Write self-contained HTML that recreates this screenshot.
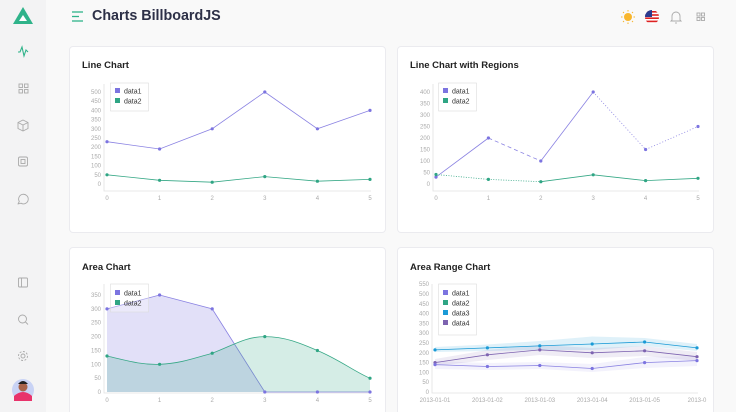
<!DOCTYPE html>
<html><head><meta charset="utf-8"><style>
html,body{margin:0;width:736px;height:412px;overflow:hidden}
body{background:#f9f9f9;font-family:"Liberation Sans",sans-serif;position:relative}
.side{position:absolute;left:0;top:0;width:46px;height:412px;background:#f3f3f4}
.card{position:absolute;background:#fff;border:1px solid #ebebef;border-radius:4px}
.t{position:absolute;font-size:9.5px;font-weight:bold;color:#222}
svg{position:absolute;left:0;top:0}
</style></head><body>
<div class="side"></div>
<div class="card" style="left:69px;top:46px;width:315px;height:185px"></div>
<div class="card" style="left:397px;top:46px;width:315px;height:185px"></div>
<div class="card" style="left:69px;top:247px;width:315px;height:180px"></div>
<div class="card" style="left:397px;top:247px;width:315px;height:180px"></div>
<div class="t" style="left:82px;top:60px">Line Chart</div>
<div class="t" style="left:410px;top:60px">Line Chart with Regions</div>
<div class="t" style="left:82px;top:262px">Area Chart</div>
<div class="t" style="left:410px;top:262px">Area Range Chart</div>
<div style="position:absolute;left:92px;top:8px;font-size:14.3px;font-weight:bold;color:#2d3047">Charts BillboardJS</div>
<svg width="736" height="412" font-family="Liberation Sans, sans-serif">
<polygon points="23,7 13,24 33,24" fill="#2fb38a"/><polygon points="23,15 19,21 27,21" fill="#fff"/>
<g stroke="#2fb38a" stroke-width="1.3"><line x1="72" y1="12" x2="83" y2="12"/><line x1="72" y1="16.5" x2="79" y2="16.5"/><line x1="72" y1="21" x2="83" y2="21"/></g>
<polyline points="18,52 20,52 22,47 24,56 26,50 28,52" fill="none" stroke="#2fb38a" stroke-width="1.1"/>
<g fill="none" stroke="#aaa" stroke-width="0.9">
<rect x="19" y="84" width="3.5" height="3.5"/><rect x="24.5" y="84" width="3.5" height="3.5"/><rect x="19" y="89.5" width="3.5" height="3.5"/><rect x="24.5" y="89.5" width="3.5" height="3.5"/>
<polygon points="23,120 28,122.5 28,128.5 23,131 18,128.5 18,122.5"/><polyline points="18,122.5 23,125 28,122.5"/><line x1="23" y1="125" x2="23" y2="131"/>
<rect x="18.5" y="157" width="9" height="9" rx="1.5"/><rect x="21" y="159.5" width="4" height="4"/>
<path d="M19.3,201.5 A4.8,4.8 0 1 1 21,203.2 L18,204 Z" stroke-linejoin="round"/>
<rect x="18.5" y="278" width="9" height="9" rx="1"/><line x1="21.5" y1="278" x2="21.5" y2="287"/>
<circle cx="22.5" cy="319" r="4"/><line x1="25.5" y1="322" x2="28" y2="324.5"/>
<circle cx="23" cy="356" r="2"/><circle cx="23" cy="356" r="4.5" stroke-dasharray="2 1.5"/>
</g>
<circle cx="23" cy="390" r="11" fill="#c9d3f5"/><path d="M14,396 q9,-8 18,0 l0,5 -18,0z" fill="#e8336b"/><circle cx="23" cy="387" r="4.5" fill="#a8634a"/><path d="M18,384 q5,-6 10,0z" fill="#222"/>
<circle cx="628" cy="17" r="4" fill="#f8b62d"/><g stroke="#f8b62d" stroke-width="1"><line x1="628" y1="10" x2="628" y2="11.5"/><line x1="628" y1="22.5" x2="628" y2="24"/><line x1="621" y1="17" x2="622.5" y2="17"/><line x1="633.5" y1="17" x2="635" y2="17"/><line x1="623" y1="12" x2="624" y2="13"/><line x1="632" y1="21" x2="633" y2="22"/><line x1="633" y1="12" x2="632" y2="13"/><line x1="623" y1="22" x2="624" y2="21"/></g>
<clipPath id="fl"><circle cx="652" cy="17" r="7"/></clipPath>
<g clip-path="url(#fl)"><rect x="645" y="10" width="14" height="14" fill="#fff"/><rect x="645" y="11" width="14" height="1.6" fill="#d22"/><rect x="645" y="14.2" width="14" height="1.6" fill="#d22"/><rect x="645" y="17.4" width="14" height="1.6" fill="#d22"/><rect x="645" y="20.6" width="14" height="1.6" fill="#d22"/><rect x="645" y="10" width="7" height="7" fill="#2a3b8f"/></g>
<g fill="none" stroke="#aaa" stroke-width="0.9"><path d="M672,20 l0,-4 a4,4 0 0 1 8,0 l0,4 1,1 -10,0z"/><line x1="675" y1="23" x2="677" y2="23"/>
<rect x="697" y="13" width="3" height="3"/><rect x="701.5" y="13" width="3" height="3"/><rect x="697" y="17.5" width="3" height="3"/><rect x="701.5" y="17.5" width="3" height="3"/></g>

<g font-size="6" fill="#aaa" text-anchor="end">
<text x="101" y="186">0</text><text x="101" y="176.8">50</text><text x="101" y="167.6">100</text><text x="101" y="158.4">150</text><text x="101" y="149.2">200</text><text x="101" y="140">250</text><text x="101" y="130.8">300</text><text x="101" y="121.6">350</text><text x="101" y="112.4">400</text><text x="101" y="103.2">450</text><text x="101" y="94">500</text>
<text x="430" y="186">0</text><text x="430" y="174.5">50</text><text x="430" y="163">100</text><text x="430" y="151.5">150</text><text x="430" y="140">200</text><text x="430" y="128.5">250</text><text x="430" y="117">300</text><text x="430" y="105.5">350</text><text x="430" y="94">400</text>
<text x="101" y="394">0</text><text x="101" y="380.1">50</text><text x="101" y="366.3">100</text><text x="101" y="352.4">150</text><text x="101" y="338.6">200</text><text x="101" y="324.7">250</text><text x="101" y="310.9">300</text><text x="101" y="297">350</text>
<text x="429" y="394">0</text><text x="429" y="384.2">50</text><text x="429" y="374.4">100</text><text x="429" y="364.6">150</text><text x="429" y="354.8">200</text><text x="429" y="345">250</text><text x="429" y="335.2">300</text><text x="429" y="325.4">350</text><text x="429" y="315.6">400</text><text x="429" y="305.8">450</text><text x="429" y="296">500</text><text x="429" y="286.2">550</text>
</g>
<g font-size="6" fill="#aaa" text-anchor="middle">
<text x="107" y="200">0</text><text x="159.6" y="200">1</text><text x="212.2" y="200">2</text><text x="264.8" y="200">3</text><text x="317.4" y="200">4</text><text x="370" y="200">5</text>
<text x="436" y="200">0</text><text x="488.4" y="200">1</text><text x="540.8" y="200">2</text><text x="593.2" y="200">3</text><text x="645.6" y="200">4</text><text x="698" y="200">5</text>
<text x="107" y="402">0</text><text x="159.6" y="402">1</text><text x="212.2" y="402">2</text><text x="264.8" y="402">3</text><text x="317.4" y="402">4</text><text x="370" y="402">5</text>
<text x="435" y="402">2013-01-01</text><text x="487.4" y="402">2013-01-02</text><text x="539.8" y="402">2013-01-03</text><text x="592.2" y="402">2013-01-04</text><text x="644.6" y="402">2013-01-05</text><text x="697" y="402">2013-0</text>
</g>
<g stroke="#e2e2e2" stroke-width="0.8" fill="none">
<polyline points="104,84 104,191 371,191"/><polyline points="433,84 433,191 699,191"/>
<polyline points="104,284 104,393 371,393"/><polyline points="432,284 432,393 698,393"/>
</g>
<polyline points="107,141.7 159.6,149 212.2,128.8 264.8,92 317.4,128.8 370,110.4" fill="none" stroke="#8a82e2" stroke-width="0.8"/>
<polyline points="107,174.8 159.6,180.3 212.2,182.2 264.8,176.6 317.4,181.2 370,179.4" fill="none" stroke="#36a886" stroke-width="0.8"/>
<g fill="#7c74e0"><circle cx="107" cy="141.7" r="1.6"/><circle cx="159.6" cy="149" r="1.6"/><circle cx="212.2" cy="128.8" r="1.6"/><circle cx="264.8" cy="92" r="1.6"/><circle cx="317.4" cy="128.8" r="1.6"/><circle cx="370" cy="110.4" r="1.6"/></g>
<g fill="#2fa584"><circle cx="107" cy="174.8" r="1.6"/><circle cx="159.6" cy="180.3" r="1.6"/><circle cx="212.2" cy="182.2" r="1.6"/><circle cx="264.8" cy="176.6" r="1.6"/><circle cx="317.4" cy="181.2" r="1.6"/><circle cx="370" cy="179.4" r="1.6"/></g>
<g fill="none" stroke-width="0.8">
<line x1="436" y1="177.1" x2="488.4" y2="138" stroke="#8a82e2"/>
<line x1="488.4" y1="138" x2="540.8" y2="161" stroke="#8a82e2" stroke-dasharray="4 3"/>
<line x1="540.8" y1="161" x2="593.2" y2="92" stroke="#8a82e2"/>
<polyline points="593.2,92 645.6,149.5 698,126.5" stroke="#8a82e2" stroke-dasharray="1 2"/>
<polyline points="436,174.5 488.4,179.4 540.8,181.7" stroke="#36a886" stroke-dasharray="1 1.5"/>
<polyline points="540.8,181.7 593.2,174.8 645.6,180.6 698,178.3" stroke="#36a886"/>
</g>
<g fill="#7c74e0"><circle cx="436" cy="177.1" r="1.6"/><circle cx="488.4" cy="138" r="1.6"/><circle cx="540.8" cy="161" r="1.6"/><circle cx="593.2" cy="92" r="1.6"/><circle cx="645.6" cy="149.5" r="1.6"/><circle cx="698" cy="126.5" r="1.6"/></g>
<g fill="#2fa584"><circle cx="436" cy="174.5" r="1.6"/><circle cx="488.4" cy="179.4" r="1.6"/><circle cx="540.8" cy="181.7" r="1.6"/><circle cx="593.2" cy="174.8" r="1.6"/><circle cx="645.6" cy="180.6" r="1.6"/><circle cx="698" cy="178.3" r="1.6"/></g>
<path d="M107,308.9 L159.6,295 L212.2,308.9 L264.8,392 L370,392 L107,392Z" fill="rgba(124,116,224,0.22)"/>
<polyline points="107,308.9 159.6,295 212.2,308.9 264.8,392 370,392" fill="none" stroke="#8a82e2" stroke-width="0.8"/>
<path d="M107,356 C125,360 140,365 159.6,364.3 C180,363.5 195,358 212.2,353.2 C232,346 245,336.6 264.8,336.6 C285,336.6 300,343 317.4,350.5 C340,360 355,372 370,378.2 L370,392 L107,392Z" fill="rgba(47,165,132,0.2)"/>
<path d="M107,356 C125,360 140,365 159.6,364.3 C180,363.5 195,358 212.2,353.2 C232,346 245,336.6 264.8,336.6 C285,336.6 300,343 317.4,350.5 C340,360 355,372 370,378.2" fill="none" stroke="#36a886" stroke-width="0.8"/>
<g fill="#7c74e0"><circle cx="107" cy="308.9" r="1.6"/><circle cx="159.6" cy="295" r="1.6"/><circle cx="212.2" cy="308.9" r="1.6"/><circle cx="264.8" cy="392" r="1.6"/><circle cx="317.4" cy="392" r="1.6"/><circle cx="370" cy="392" r="1.6"/></g>
<g fill="#2fa584"><circle cx="107" cy="356" r="1.6"/><circle cx="159.6" cy="364.3" r="1.6"/><circle cx="212.2" cy="353.2" r="1.6"/><circle cx="264.8" cy="336.6" r="1.6"/><circle cx="317.4" cy="350.5" r="1.6"/><circle cx="370" cy="378.2" r="1.6"/></g>
<path d="M435,347 L487.4,344.5 L539.8,341 L592.2,336.5 L644.6,338 L697,344 L697,351 L644.6,346 L592.2,350 L539.8,350 L487.4,351 L435,352Z" fill="rgba(26,154,214,0.14)"/>
<path d="M435,359 L487.4,350 L539.8,345 L592.2,348 L644.6,346 L697,352 L697,361 L644.6,356 L592.2,358 L539.8,355 L487.4,360 L435,366Z" fill="rgba(125,99,176,0.12)"/>
<path d="M435,361 L487.4,363 L539.8,362 L592.2,364 L644.6,357 L697,356 L697,366 L644.6,368 L592.2,372 L539.8,369 L487.4,370 L435,369Z" fill="rgba(124,116,224,0.09)"/>
<polyline points="435,349.9 487.4,347.9 539.8,345.9 592.2,344 644.6,342 697,347.9" fill="none" stroke="#1a9ad6" stroke-width="0.8"/>
<polyline points="435,362.6 487.4,354.8 539.8,349.9 592.2,352.8 644.6,350.8 697,356.7" fill="none" stroke="#7d63b0" stroke-width="0.8"/>
<polyline points="435,364.6 487.4,366.5 539.8,365.5 592.2,368.5 644.6,362.6 697,360.6" fill="none" stroke="#8a82e2" stroke-width="0.8"/>
<g fill="#1a9ad6"><circle cx="435" cy="349.9" r="1.6"/><circle cx="487.4" cy="347.9" r="1.6"/><circle cx="539.8" cy="345.9" r="1.6"/><circle cx="592.2" cy="344" r="1.6"/><circle cx="644.6" cy="342" r="1.6"/><circle cx="697" cy="347.9" r="1.6"/></g>
<g fill="#7d63b0"><circle cx="435" cy="362.6" r="1.6"/><circle cx="487.4" cy="354.8" r="1.6"/><circle cx="539.8" cy="349.9" r="1.6"/><circle cx="592.2" cy="352.8" r="1.6"/><circle cx="644.6" cy="350.8" r="1.6"/><circle cx="697" cy="356.7" r="1.6"/></g>
<g fill="#7c74e0"><circle cx="435" cy="364.6" r="1.6"/><circle cx="487.4" cy="366.5" r="1.6"/><circle cx="539.8" cy="365.5" r="1.6"/><circle cx="592.2" cy="368.5" r="1.6"/><circle cx="644.6" cy="362.6" r="1.6"/><circle cx="697" cy="360.6" r="1.6"/></g>
<g font-size="7" fill="#333">
<rect x="110.5" y="83" width="38" height="28" fill="#fff" stroke="#ddd" stroke-width="0.6"/>
<rect x="115" y="88" width="5" height="5" fill="#7c74e0"/><text x="124" y="93.5">data1</text>
<rect x="115" y="98" width="5" height="5" fill="#2fa584"/><text x="124" y="103.5">data2</text>
<rect x="438.5" y="83" width="38" height="28" fill="#fff" stroke="#ddd" stroke-width="0.6"/>
<rect x="443" y="88" width="5" height="5" fill="#7c74e0"/><text x="452" y="93.5">data1</text>
<rect x="443" y="98" width="5" height="5" fill="#2fa584"/><text x="452" y="103.5">data2</text>
<rect x="110.5" y="284" width="38" height="28" fill="rgba(255,255,255,0.3)" stroke="#ddd" stroke-width="0.6"/>
<rect x="115" y="290" width="5" height="5" fill="#7c74e0"/><text x="124" y="295.5">data1</text>
<rect x="115" y="300" width="5" height="5" fill="#2fa584"/><text x="124" y="305.5">data2</text>
<rect x="438.5" y="284" width="38" height="51" fill="#fff" stroke="#ddd" stroke-width="0.6"/>
<rect x="443" y="290" width="5" height="5" fill="#7c74e0"/><text x="452" y="295.5">data1</text>
<rect x="443" y="300" width="5" height="5" fill="#2fa584"/><text x="452" y="305.5">data2</text>
<rect x="443" y="310" width="5" height="5" fill="#1a9ad6"/><text x="452" y="315.5">data3</text>
<rect x="443" y="320" width="5" height="5" fill="#7d63b0"/><text x="452" y="325.5">data4</text>
</g>
</svg>
</body></html>
